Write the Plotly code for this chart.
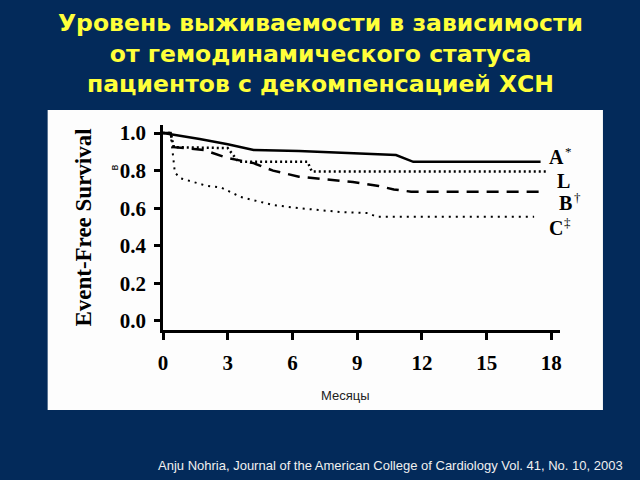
import plotly.graph_objects as go

# Data
months_A = [0, 0.3, 1.7, 3.0, 3.6, 4.2, 6.3, 9.0, 10.8, 11.6, 17.5]
surv_A = [1.0, 0.995, 0.968, 0.94, 0.925, 0.91, 0.905, 0.89, 0.883, 0.847, 0.847]

months_L = [0, 0.35, 0.5, 3.0, 3.5, 6.7, 6.9, 17.8]
surv_L = [1.0, 1.0, 0.925, 0.92, 0.847, 0.847, 0.795, 0.795]

months_B = [0, 0.35, 0.5, 1.9, 3.0, 4.2, 5.1, 6.3, 7.4, 8.8, 10.0, 10.7, 11.5, 17.6]
surv_B = [1.0, 1.0, 0.925, 0.91, 0.867, 0.84, 0.80, 0.768, 0.755, 0.74, 0.718, 0.70, 0.688, 0.688]

months_C = [0, 0.35, 0.55, 0.8, 2.0, 2.7, 3.6, 5.1, 6.35, 8.2, 9.5, 9.9, 17.2]
surv_C = [1.0, 1.0, 0.79, 0.76, 0.72, 0.71, 0.66, 0.617, 0.60, 0.58, 0.574, 0.555, 0.555]

x_ticks = [0, 3, 6, 9, 12, 15, 18]
y_ticks = [0.0, 0.2, 0.4, 0.6, 0.8, 1.0]
y_tick_labels = ["0.0", "0.2", "0.4", "0.6", "0.8", "1.0"]

group_letters = ["A", "L", "B", "C"]
group_marks = ["*", "", "\u2020", "\u2021"]

title_lines = ["Уровень выживаемости в зависимости",
               "от гемодинамического статуса",
               "пациентов с декомпенсацией ХСН"]
citation = "Anju Nohria, Journal of the American College of Cardiology Vol. 41, No. 10, 2003"

NAVY = "#032a5a"
YELLOW = "#ffff3a"
SERIF = "Liberation Serif, Times New Roman, serif"

fig = go.Figure()
fig.add_trace(go.Scatter(x=months_A, y=surv_A, mode="lines",
                         line=dict(color="black", width=2.5, dash="solid"), showlegend=False))
fig.add_trace(go.Scatter(x=months_L, y=surv_L, mode="lines",
                         line=dict(color="black", width=2.5, dash="2px,3px"), showlegend=False))
fig.add_trace(go.Scatter(x=months_B, y=surv_B, mode="lines",
                         line=dict(color="black", width=2.5, dash="12px,8px"), showlegend=False))
fig.add_trace(go.Scatter(x=months_C, y=surv_C, mode="lines",
                         line=dict(color="black", width=2, dash="2px,5px"), showlegend=False))

# plot area: x 162.5..560 px, y 125..330 px
L, R, T, B = 162.5, 560.0, 125.0, 330.0
W, H = R - L, B - T

def px(xp):
    return (xp - L) / W

def py(yp):
    return (B - yp) / H

# series labels (pixel positions of their left edge / centre)
label_px = [547, 555, 557, 547]
label_py = [157, 181, 203, 228]
mark_dx = [16, 0, 15, 15]
for t, m, xp, yp, dx in zip(group_letters, group_marks, label_px, label_py, mark_dx):
    fig.add_annotation(xref="paper", yref="paper", x=px(xp), y=py(yp), text="<b>" + t + "</b>",
                       showarrow=False, xanchor="left", yanchor="middle",
                       font=dict(family=SERIF, size=20, color="black"))
    if m:
        fig.add_annotation(xref="paper", yref="paper", x=px(xp + dx), y=py(yp - 6), text=m,
                           showarrow=False, xanchor="left", yanchor="middle",
                           font=dict(family=SERIF, size=13, color="black"))

fig.add_shape(type="rect", xref="paper", yref="paper", layer="below",
              x0=px(47), x1=px(603), y0=py(410), y1=py(110),
              fillcolor="#fdfdfd", line=dict(width=0))

fig.add_annotation(xref="paper", yref="paper", x=px(320), y=py(54),
                   text="<br>".join(title_lines), showarrow=False,
                   xanchor="center", yanchor="middle", align="center",
                   font=dict(family="DejaVu Sans", size=23.5, color=YELLOW, weight="bold"))

fig.add_annotation(xref="paper", yref="paper", x=px(82), y=py(228),
                   text="<b>Event-Free Survival</b>", textangle=-90, showarrow=False,
                   xanchor="center", yanchor="middle",
                   font=dict(family=SERIF, size=23, color="black"))
fig.add_annotation(xref="paper", yref="paper", x=px(113), y=py(168),
                   text="в", textangle=-90, showarrow=False,
                   xanchor="center", yanchor="middle",
                   font=dict(family="Liberation Sans", size=11, color="black"))
fig.add_annotation(xref="paper", yref="paper", x=px(345), y=py(395),
                   text="Месяцы", showarrow=False, xanchor="center", yanchor="middle",
                   font=dict(family="Liberation Sans, Arial", size=13, color="#222222"))
fig.add_annotation(xref="paper", yref="paper", x=px(625), y=py(465),
                   text=citation, showarrow=False, xanchor="right", yanchor="middle",
                   font=dict(family="Liberation Sans, Arial", size=13, color="#f0f0f0"))

fig.update_xaxes(range=[0, 18.4], tickvals=x_ticks, ticktext=[str(v) for v in x_ticks],
                 showgrid=False, zeroline=False, showline=True, linecolor="black", linewidth=2.5,
                 ticks="outside", ticklen=7, tickwidth=2.5, tickcolor="black",
                 ticklabelstandoff=5,
                 tickfont=dict(family=SERIF, size=21, color="black", weight="bold"))
fig.update_yaxes(range=[-0.048, 1.043], tickvals=y_ticks, ticktext=y_tick_labels,
                 showgrid=False, zeroline=False, showline=True, linecolor="black", linewidth=2.5,
                 ticks="outside", ticklen=6, tickwidth=2.5, tickcolor="black",
                 ticklabelstandoff=4,
                 tickfont=dict(family=SERIF, size=21, color="black", weight="bold"))

fig.update_layout(width=640, height=480,
                  margin=dict(l=L, r=640 - R, t=T, b=480 - B, pad=0),
                  paper_bgcolor=NAVY, plot_bgcolor="rgba(0,0,0,0)")

fig.write_html("out.html")
